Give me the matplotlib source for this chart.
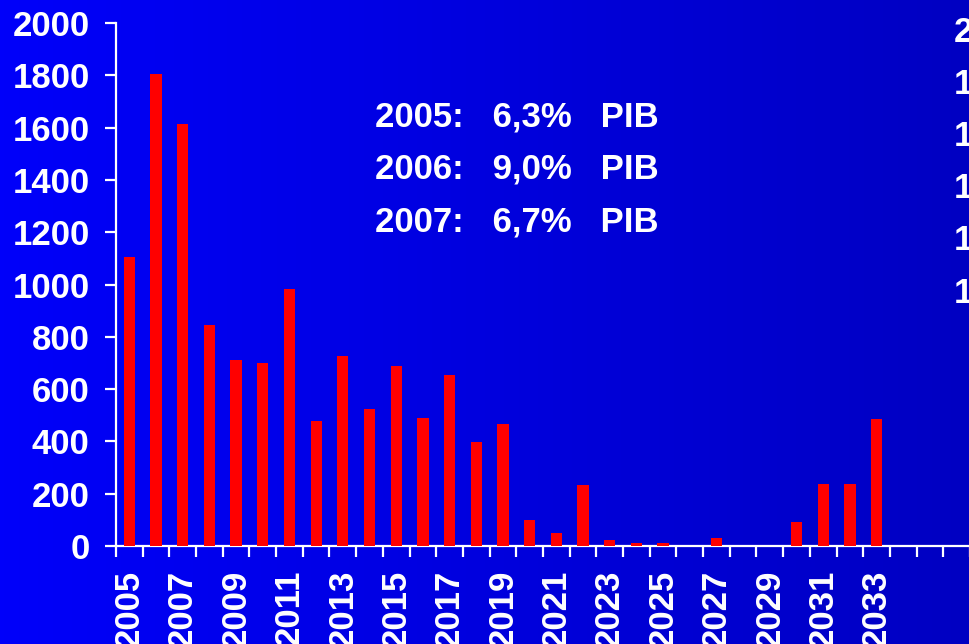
import numpy as np
import matplotlib
matplotlib.use("Agg")
import matplotlib.pyplot as plt
from matplotlib.ticker import FixedLocator

# Data
years = list(range(2005, 2037))
values = [1105, 1805, 1614, 845, 711, 700, 983, 478, 727, 524,
          688, 489, 653, 398, 467, 99, 50, 233, 23, 11,
          11, 0, 31, 0, 0, 92, 237, 237, 486, 0,
          0, 0]
pib_notes = ["2005:   6,3%   PIB", "2006:   9,0%   PIB", "2007:   6,7%   PIB"]
y_ticks = [0, 200, 400, 600, 800, 1000, 1200, 1400, 1600, 1800, 2000]
cut_labels = ["2000", "1800", "1600", "1400", "1200", "1000"]

plt.rcParams['font.family'] = ['Liberation Sans', 'DejaVu Sans']
plt.rcParams['font.weight'] = 'bold'

W, H = 970, 644
fig = plt.figure(figsize=(W / 100, H / 100), dpi=100)

# blue gradient background
bg = fig.add_axes([0, 0, 1, 1], zorder=-10)
grad = np.linspace(0, 1, 256).reshape(1, -1)
cmap = matplotlib.colors.LinearSegmentedColormap.from_list('bg', ['#0000fa', '#0000c2'])
bg.imshow(grad, aspect='auto', cmap=cmap, extent=[0, 1, 0, 1])
bg.axis('off')

left, right, top, bottom = 116, 970, 23, 546
ax = fig.add_axes([left / W, (H - bottom) / H, (right - left) / W, (bottom - top) / H])
ax.patch.set_alpha(0)

x = np.arange(len(years))
ax.bar(x, values, width=0.42, color='#ff0000', zorder=3)

ax.set_xlim(-0.5, len(years) - 0.5)
ax.set_ylim(0, 2000)

for s in ['top', 'right']:
    ax.spines[s].set_visible(False)
for s in ['left', 'bottom']:
    ax.spines[s].set_color('white')
    ax.spines[s].set_linewidth(1.6)

ax.set_yticks(y_ticks)
ax.tick_params(axis='y', colors='white', length=8, width=1.6, pad=11, labelsize=25)

lab_pos = [i for i, yv in enumerate(years) if yv % 2 == 1 and yv <= 2033]
ax.set_xticks(lab_pos)
ax.set_xticklabels([str(years[i]) for i in lab_pos], rotation=90, va='top')
ax.tick_params(axis='x', which='major', colors='white', length=0, pad=17, labelsize=25)
ax.xaxis.set_minor_locator(FixedLocator(np.arange(-0.5, len(years), 1.0)))
ax.tick_params(axis='x', which='minor', colors='white', length=8, width=1.6)

for t in ax.get_xticklabels() + ax.get_yticklabels():
    t.set_fontweight('bold')

for i, note in enumerate(pib_notes):
    fig.text(375 / W, 1 - (117 + 52.5 * i) / H, note, color='white',
             fontsize=25, fontweight='bold', ha='left', va='center')

for i, lab in enumerate(cut_labels):
    fig.text(954 / W, 1 - (33 + 52 * i) / H, lab, color='white',
             fontsize=25, fontweight='bold', ha='left', va='center')

fig.savefig('out.png', dpi=100)
